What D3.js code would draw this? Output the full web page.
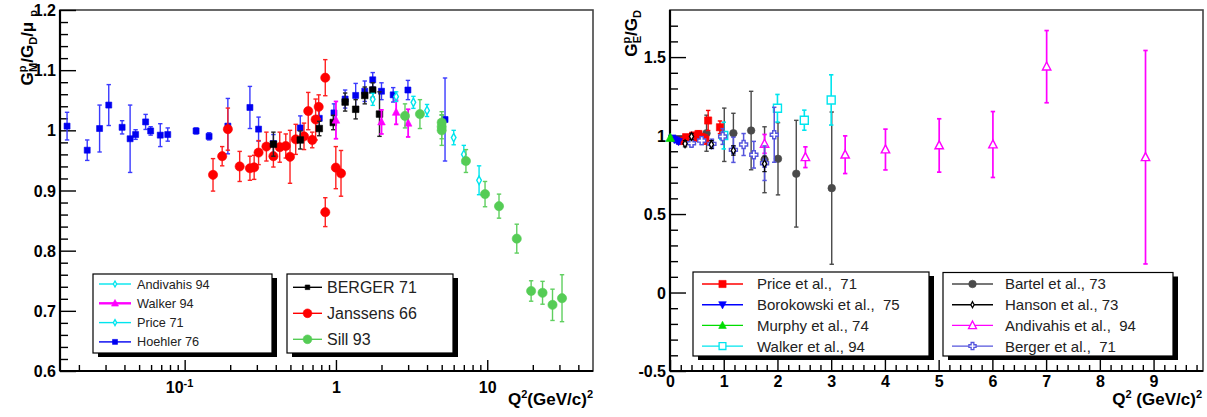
<!DOCTYPE html>
<html>
<head>
<meta charset="utf-8">
<script src="https://cdn.jsdelivr.net/npm/d3@7"></script>
<style>
  body { margin: 0; background: #fff; }
  svg { display: block; font-family: "Liberation Sans", Arial, Helvetica, sans-serif; }
  text { white-space: pre; }
</style>
</head>
<body>
<svg id="chart" width="1207" height="417"></svg>
<script>
// ---------- G_M^p / G_D / mu_p versus Q^2 (log scale) ----------
// each point: [Q2 (GeV/c)^2, ratio, error]
const hoehler76 = [
  [0.0167, 1.007, 0.023], [0.0227, 0.967, 0.017], [0.0274, 1.003, 0.039],
  [0.0315, 1.042, 0.034], [0.0386, 1.005, 0.011], [0.0436, 0.986, 0.056],
  [0.0474, 0.993, 0.008], [0.0552, 1.014, 0.0125], [0.0596, 0.999, 0.007],
  [0.069, 0.992, 0.019], [0.0773, 0.993, 0.011], [0.119, 0.999, 0.005],
  [0.145, 0.990, 0.006], [0.193, 1.007, 0.046], [0.270, 1.038, 0.035],
  [0.308, 1.002, 0.020], [0.386, 0.978, 0.015], [0.581, 1.004, 0.020],
  [0.776, 1.020, 0.015], [0.97, 1.029, 0.015], [1.15, 1.052, 0.015],
  [1.35, 1.058, 0.020], [1.55, 1.065, 0.017], [1.75, 1.084, 0.012],
  [2.0, 1.065, 0.014], [2.39, 1.059, 0.012], [2.99, 1.067, 0.016],
  [5.26, 1.018, 0.069]
];
const berger71 = [
  [0.386, 0.977, 0.020], [0.581, 0.984, 0.015], [0.776, 1.003, 0.012],
  [0.96, 1.013, 0.012], [1.15, 1.047, 0.015], [1.35, 1.035, 0.016],
  [1.55, 1.058, 0.014], [1.75, 1.067, 0.012], [1.94, 1.027, 0.037]
];
const janssens66 = [
  [0.154, 0.926, 0.027], [0.177, 0.957, 0.016], [0.193, 1.002, 0.035],
  [0.231, 0.940, 0.025], [0.270, 0.937, 0.020], [0.288, 0.9385, 0.020],
  [0.308, 0.963, 0.020], [0.347, 0.973, 0.024], [0.386, 0.957, 0.018],
  [0.425, 0.972, 0.025], [0.466, 0.974, 0.020], [0.497, 0.956, 0.044],
  [0.542, 0.985, 0.025], [0.615, 0.990, 0.022], [0.656, 1.032, 0.031],
  [0.697, 0.984, 0.013], [0.734, 1.018, 0.034], [0.769, 1.039, 0.020],
  [0.85, 1.0875, 0.030], [0.85, 0.864, 0.024], [0.998, 0.938, 0.035],
  [1.08, 0.9285, 0.038]
];
const walker94M = [
  [1.0, 1.017, 0.031], [2.0, 1.014, 0.020], [2.5, 1.030, 0.020], [3.0, 1.012, 0.023]
];
const price71M = [
  [1.75, 1.0515, 0.010], [2.5, 1.056, 0.008]
];
const andivahis94M = [
  [3.25, 1.0465, 0.010], [4.0, 1.033, 0.010], [6.0, 0.988, 0.012],
  [7.0, 0.960, 0.015], [8.83, 0.917, 0.024]
];
const sill93 = [
  [2.86, 1.024, 0.020], [3.59, 1.027, 0.024], [5.0, 1.013, 0.018],
  [5.0, 1.006, 0.020], [5.0, 1.000, 0.025], [7.23, 0.949, 0.019],
  [9.67, 0.894, 0.021], [11.96, 0.874, 0.020], [15.67, 0.820, 0.024],
  [19.5, 0.733, 0.017], [23.2, 0.730, 0.019], [27.0, 0.710, 0.026],
  [31.2, 0.721, 0.039]
];

// ---------- G_E^p / G_D versus Q^2 (linear scale) ----------
const price71E = [
  [0.20, 0.965, 0.012], [0.25, 0.968, 0.015], [0.30, 0.990, 0.015],
  [0.34, 0.979, 0.015], [0.43, 1.000, 0.020], [0.48, 0.985, 0.020],
  [0.53, 1.010, 0.020], [0.59, 0.990, 0.020], [0.66, 0.975, 0.030],
  [0.71, 1.096, 0.064], [0.93, 1.053, 0.040]
];
const borkowski75 = [
  [0.04, 0.985, 0.010], [0.08, 0.975, 0.010], [0.12, 0.970, 0.012], [0.16, 0.962, 0.015]
];
const murphy74 = [
  [0.005, 0.985, 0.010]
];
const walker94E = [
  [1.0, 1.000, 0.085], [2.0, 1.174, 0.088], [2.5, 1.098, 0.064], [3.0, 1.227, 0.160]
];
const bartel73 = [
  [0.68, 1.015, 0.115], [1.01, 1.005, 0.170], [1.18, 1.015, 0.127],
  [1.51, 1.032, 0.250], [1.76, 0.846, 0.210], [2.01, 0.852, 0.230],
  [2.35, 0.757, 0.340], [3.01, 0.665, 0.485]
];
const hanson73 = [
  [0.28, 0.948, 0.020], [0.40, 0.994, 0.020], [0.77, 0.943, 0.025],
  [1.18, 0.905, 0.030], [1.76, 0.820, 0.050]
];
const andivahis94E = [
  [1.76, 0.947, 0.060], [2.52, 0.862, 0.066], [3.26, 0.878, 0.120],
  [4.01, 0.911, 0.130], [5.01, 0.937, 0.170], [6.01, 0.943, 0.210],
  [7.01, 1.439, 0.230], [8.85, 0.862, 0.680]
];
const berger71E = [
  [0.40, 0.951, 0.020], [0.59, 0.968, 0.025], [0.78, 0.947, 0.030],
  [0.98, 0.994, 0.050], [1.18, 0.909, 0.080], [1.37, 0.943, 0.070],
  [1.56, 0.878, 0.085], [1.76, 0.824, 0.110], [1.94, 1.005, 0.175]
];

// tick values
const yTicksLeft = [0.6, 0.7, 0.8, 0.9, 1.0, 1.1, 1.2];
const xMajorLeft = [0.1, 1, 10];
const yTicksRight = [-0.5, 0, 0.5, 1.0, 1.5];
const xTicksRight = [0, 1, 2, 3, 4, 5, 6, 7, 8, 9];

// ---------- layout ----------
const svg = d3.select("#chart");
const PL = { x0: 60, x1: 593, y0: 10, y1: 371 };
const PR = { x0: 670, x1: 1203, y0: 10, y1: 371 };

const xL = d3.scaleLog().domain([0.015, 50]).range([PL.x0, PL.x1]);
const yL = d3.scaleLinear().domain([0.6, 1.2]).range([PL.y1, PL.y0]);
const xR = d3.scaleLinear().domain([0, 9.92]).range([PR.x0, PR.x1]);
const yR = d3.scaleLinear().domain([-0.5, 1.8]).range([PR.y1, PR.y0]);

// ---------- marker shapes ----------
function shapePath(kind, s) {
  switch (kind) {
    case "square": return `M${-s},${-s}H${s}V${s}H${-s}Z`;
    case "circle": return d3.symbol(d3.symbolCircle, Math.PI * s * s)();
    case "tri": return `M0,${-s * 1.1}L${s},${s * 0.8}L${-s},${s * 0.8}Z`;
    case "triDown": return `M0,${s * 1.1}L${s},${-s * 0.8}L${-s},${-s * 0.8}Z`;
    case "diamond": return `M0,${-s}L${s * 0.55},0L0,${s}L${-s * 0.55},0Z`;
    case "cross": {
      const a = s * 0.38;
      return `M${-a},${-s}H${a}V${-a}H${s}V${a}H${a}V${s}H${-a}V${a}H${-s}V${-a}H${-a}Z`;
    }
  }
}

function drawSeries(g, xs, ys, data, st) {
  const grp = g.append("g");
  const cap = st.cap ?? 2.2;
  const bars = grp.selectAll("g.bar").data(data).join("g").attr("class", "bar")
    .attr("stroke", st.bar || st.color).attr("stroke-width", st.barWidth || 1.4);
  bars.append("line")
    .attr("x1", d => xs(d[0])).attr("x2", d => xs(d[0]))
    .attr("y1", d => ys(d[1] + d[2])).attr("y2", d => ys(d[1] - d[2]));
  bars.append("line")
    .attr("x1", d => xs(d[0]) - cap).attr("x2", d => xs(d[0]) + cap)
    .attr("y1", d => ys(d[1] + d[2])).attr("y2", d => ys(d[1] + d[2]));
  bars.append("line")
    .attr("x1", d => xs(d[0]) - cap).attr("x2", d => xs(d[0]) + cap)
    .attr("y1", d => ys(d[1] - d[2])).attr("y2", d => ys(d[1] - d[2]));
  grp.selectAll("path.mk").data(data).join("path").attr("class", "mk")
    .attr("transform", d => `translate(${xs(d[0])},${ys(d[1])})`)
    .attr("d", shapePath(st.shape, st.size))
    .attr("fill", st.open ? "#fff" : st.color)
    .attr("stroke", st.color)
    .attr("stroke-width", st.open ? 1.4 : 0.6);
}

// ---------- frames and axes ----------
function frame(P) {
  svg.append("rect").attr("x", P.x0).attr("y", P.y0)
    .attr("width", P.x1 - P.x0).attr("height", P.y1 - P.y0)
    .attr("fill", "none").attr("stroke", "#444").attr("stroke-width", 1.6);
}
frame(PL); frame(PR);

function tickAxis(axis, transform) {
  const g = svg.append("g").attr("transform", transform).call(axis);
  g.select(".domain").remove();
  g.selectAll(".tick line").attr("stroke", "#000").attr("stroke-width", 1.4);
  g.selectAll(".tick text").attr("fill", "#000").attr("font-weight", "bold").attr("font-size", 16)
    .attr("font-family", "'Liberation Sans', Arial, sans-serif");
  return g;
}

// left panel: y axis
const fmtY = d => (d === 1 ? "1" : d3.format(".1f")(d));
tickAxis(d3.axisLeft(yL).tickValues(yTicksLeft).tickSizeInner(-16).tickSizeOuter(0)
  .tickPadding(4).tickFormat(fmtY), `translate(${PL.x0},0)`)
  .selectAll(".tick text").attr("dy", "0.35em");
const yMinorLeft = d3.range(0.62, 1.2, 0.02).filter(v => Math.abs(Math.round(v * 10) - v * 10) > 0.05);
tickAxis(d3.axisLeft(yL).tickValues(yMinorLeft).tickSizeInner(-8).tickSizeOuter(0).tickFormat(""),
  `translate(${PL.x0},0)`);

// left panel: log x axis
const gxl = tickAxis(d3.axisBottom(xL).tickValues(xMajorLeft).tickSizeInner(-11).tickSizeOuter(0)
  .tickPadding(11).tickFormat(d => (d === 0.1 ? "10" : String(d))), `translate(0,${PL.y1})`);
gxl.selectAll(".tick text").filter(d => d === 0.1)
  .attr("dx", "-0.35em")
  .append("tspan").attr("font-size", 11).attr("dy", "-0.55em").text("-1");
const xMinorLeft = [];
[0.01, 0.1, 1, 10].forEach(dec => { for (let k = 2; k <= 9; k++) { const v = k * dec; if (v > 0.015 && v < 50) xMinorLeft.push(v); } });
tickAxis(d3.axisBottom(xL).tickValues(xMinorLeft).tickSizeInner(-6).tickSizeOuter(0).tickFormat(""),
  `translate(0,${PL.y1})`);

// right panel: y axis
tickAxis(d3.axisLeft(yR).tickValues(yTicksRight).tickSizeInner(-16).tickSizeOuter(0)
  .tickPadding(4).tickFormat(d => (d === 0 ? "0" : d === 1 ? "1" : String(d))), `translate(${PR.x0},0)`)
  .selectAll(".tick text").attr("dy", "0.35em");
const yMinorRight = d3.range(-0.4, 1.8, 0.1).map(v => +v.toFixed(2)).filter(v => Math.abs(v * 2 - Math.round(v * 2)) > 0.01);
tickAxis(d3.axisLeft(yR).tickValues(yMinorRight).tickSizeInner(-8).tickSizeOuter(0).tickFormat(""),
  `translate(${PR.x0},0)`);

// right panel: x axis
tickAxis(d3.axisBottom(xR).tickValues(xTicksRight).tickSizeInner(-11).tickSizeOuter(0)
  .tickPadding(5).tickFormat(d3.format("d")), `translate(0,${PR.y1})`);
const xMinorRight = d3.range(0.2, 9.9, 0.2).map(v => +v.toFixed(2)).filter(v => Math.abs(v - Math.round(v)) > 0.01);
tickAxis(d3.axisBottom(xR).tickValues(xMinorRight).tickSizeInner(-6).tickSizeOuter(0).tickFormat(""),
  `translate(0,${PR.y1})`);

// thick axis lines along bottom and left of each frame
[PL, PR].forEach(P => {
  svg.append("line").attr("x1", P.x0).attr("x2", P.x1).attr("y1", P.y1).attr("y2", P.y1)
    .attr("stroke", "#000").attr("stroke-width", 2.2);
  svg.append("line").attr("x1", P.x0).attr("x2", P.x0).attr("y1", P.y0).attr("y2", P.y1)
    .attr("stroke", "#000").attr("stroke-width", 2.2);
});

// ---------- axis titles ----------
const tL = svg.append("text").attr("transform", `translate(33,${PL.y0}) rotate(-90)`)
  .attr("text-anchor", "end").attr("font-weight", "bold").attr("font-size", 17);
tL.append("tspan").text("G");
tL.append("tspan").attr("font-size", 11).attr("dy", -7).text("p");
tL.append("tspan").attr("font-size", 11).attr("dx", -6.5).attr("dy", 11).text("M");
tL.append("tspan").attr("dy", -4).text("/G");
tL.append("tspan").attr("font-size", 11).attr("dy", 4).text("D");
tL.append("tspan").attr("dy", -4).text("/\u03bc");
tL.append("tspan").attr("font-size", 11).attr("dx", 5).attr("dy", 4).text("p");

const tR = svg.append("text").attr("transform", `translate(637,${PR.y0}) rotate(-90)`)
  .attr("text-anchor", "end").attr("font-weight", "bold").attr("font-size", 17);
tR.append("tspan").text("G");
tR.append("tspan").attr("font-size", 11).attr("dy", -7).text("p");
tR.append("tspan").attr("font-size", 11).attr("dx", -6.5).attr("dy", 11).text("E");
tR.append("tspan").attr("dy", -4).text("/G");
tR.append("tspan").attr("font-size", 11).attr("dy", 4).text("D");

function xTitle(xEnd, spaced) {
  const t = svg.append("text").attr("x", xEnd).attr("y", 405).attr("text-anchor", "end")
    .attr("font-weight", "bold").attr("font-size", 17);
  t.append("tspan").text("Q");
  t.append("tspan").attr("font-size", 11).attr("dy", -7).text("2");
  t.append("tspan").attr("dy", 7).text((spaced ? " " : "") + "(GeV/c)");
  t.append("tspan").attr("font-size", 11).attr("dy", -7).text("2");
}
xTitle(593, false);
xTitle(1202, true);

// ---------- data: left panel ----------
const gl = svg.append("g");
drawSeries(gl, xL, yL, hoehler76, { color: "#0000f0", bar: "#3a3aff", shape: "square", size: 3 });
drawSeries(gl, xL, yL, janssens66, { color: "#ff0000", bar: "#ff2020", shape: "circle", size: 4.6 });
drawSeries(gl, xL, yL, berger71, { color: "#000", bar: "#222", shape: "square", size: 3.3 });
drawSeries(gl, xL, yL, walker94M, { color: "#ff00ff", shape: "tri", size: 3.8, barWidth: 1.8 });
drawSeries(gl, xL, yL, price71M, { color: "#00e5ee", shape: "diamond", size: 4.2, open: true });
drawSeries(gl, xL, yL, andivahis94M, { color: "#00e5ee", shape: "diamond", size: 4.2, open: true });
drawSeries(gl, xL, yL, sill93, { color: "#55cc55", bar: "#5fcf5f", shape: "circle", size: 4.6 });

// ---------- data: right panel ----------
const gr = svg.append("g");
drawSeries(gr, xR, yR, bartel73, { color: "#4a4a4a", shape: "circle", size: 3.8 });
drawSeries(gr, xR, yR, walker94E, { color: "#00e5ee", shape: "square", size: 4, open: true, barWidth: 1.6 });
drawSeries(gr, xR, yR, andivahis94E, { color: "#ff00ff", shape: "tri", size: 4.2, open: true, barWidth: 1.7 });
drawSeries(gr, xR, yR, price71E, { color: "#ff0000", shape: "square", size: 3.6 });
drawSeries(gr, xR, yR, borkowski75, { color: "#0000ff", shape: "triDown", size: 3.8 });
drawSeries(gr, xR, yR, berger71E, { color: "#5555dd", shape: "cross", size: 4, open: true, barWidth: 1.5 });
drawSeries(gr, xR, yR, hanson73, { color: "#000", shape: "diamond", size: 3.8, open: true, barWidth: 1.1 });
drawSeries(gr, xR, yR, murphy74, { color: "#00dd00", shape: "tri", size: 4.4 });

// ---------- legends ----------
function legend(box, rows, o) {
  const g = svg.append("g");
  g.append("rect").attr("x", box.x + 5).attr("y", box.y + 4).attr("width", box.w).attr("height", box.h).attr("fill", "#000");
  g.append("rect").attr("x", box.x).attr("y", box.y).attr("width", box.w).attr("height", box.h)
    .attr("fill", "#fff").attr("stroke", "#000").attr("stroke-width", 1.2);
  rows.forEach((r, i) => {
    const y = o.y0 + i * o.dy;
    g.append("line").attr("x1", o.l0).attr("x2", o.l1).attr("y1", y).attr("y2", y)
      .attr("stroke", r.color).attr("stroke-width", r.lw || 1.4);
    g.append("path").attr("transform", `translate(${(o.l0 + o.l1) / 2},${y})`)
      .attr("d", shapePath(r.shape, r.size))
      .attr("fill", r.open ? "#fff" : r.color).attr("stroke", r.color).attr("stroke-width", r.open ? 1.3 : 0.6);
    g.append("text").attr("x", o.tx).attr("y", y).attr("dy", "0.36em")
      .attr("font-size", o.fs).attr("fill", "#222").text(r.label);
  });
}

legend({ x: 93, y: 274, w: 179, h: 79 }, [
  { label: "Andivahis 94", color: "#00e5ee", shape: "diamond", size: 3, open: true },
  { label: "Walker 94", color: "#ff00ff", shape: "tri", size: 3.5, lw: 2.4 },
  { label: "Price 71", color: "#00e5ee", shape: "diamond", size: 3, open: true },
  { label: "Hoehler 76", color: "#0000f0", shape: "square", size: 2.5 }
], { y0: 284, dy: 19.3, l0: 99, l1: 131, tx: 137, fs: 12.7 });

legend({ x: 287, y: 274, w: 166, h: 79 }, [
  { label: "BERGER 71", color: "#000", shape: "square", size: 2.3 },
  { label: "Janssens 66", color: "#ff0000", shape: "circle", size: 4.4 },
  { label: "Sill 93", color: "#55cc55", shape: "circle", size: 4.4 }
], { y0: 287.3, dy: 26, l0: 293, l1: 322, tx: 327, fs: 16 });

legend({ x: 693, y: 272, w: 236, h: 84 }, [
  { label: "Price et al.,  71", color: "#ff0000", shape: "square", size: 3.6 },
  { label: "Borokowski et al.,  75", color: "#0000ff", shape: "triDown", size: 3.8 },
  { label: "Murphy et al., 74", color: "#00dd00", shape: "tri", size: 3.8 },
  { label: "Walker et al., 94", color: "#00e5ee", shape: "square", size: 3.4, open: true }
], { y0: 284, dy: 20.7, l0: 702, l1: 743, tx: 757, fs: 15 });

legend({ x: 943, y: 272.5, w: 230, h: 83.5 }, [
  { label: "Bartel et al., 73", color: "#4a4a4a", shape: "circle", size: 3.8 },
  { label: "Hanson et al., 73", color: "#000", shape: "diamond", size: 3, open: true },
  { label: "Andivahis et al.,  94", color: "#ff00ff", shape: "tri", size: 4, open: true },
  { label: "Berger et al.,  71", color: "#5555dd", shape: "cross", size: 3.6, open: true }
], { y0: 284, dy: 20.7, l0: 952, l1: 993, tx: 1005, fs: 15 });
</script>
</body>
</html>
